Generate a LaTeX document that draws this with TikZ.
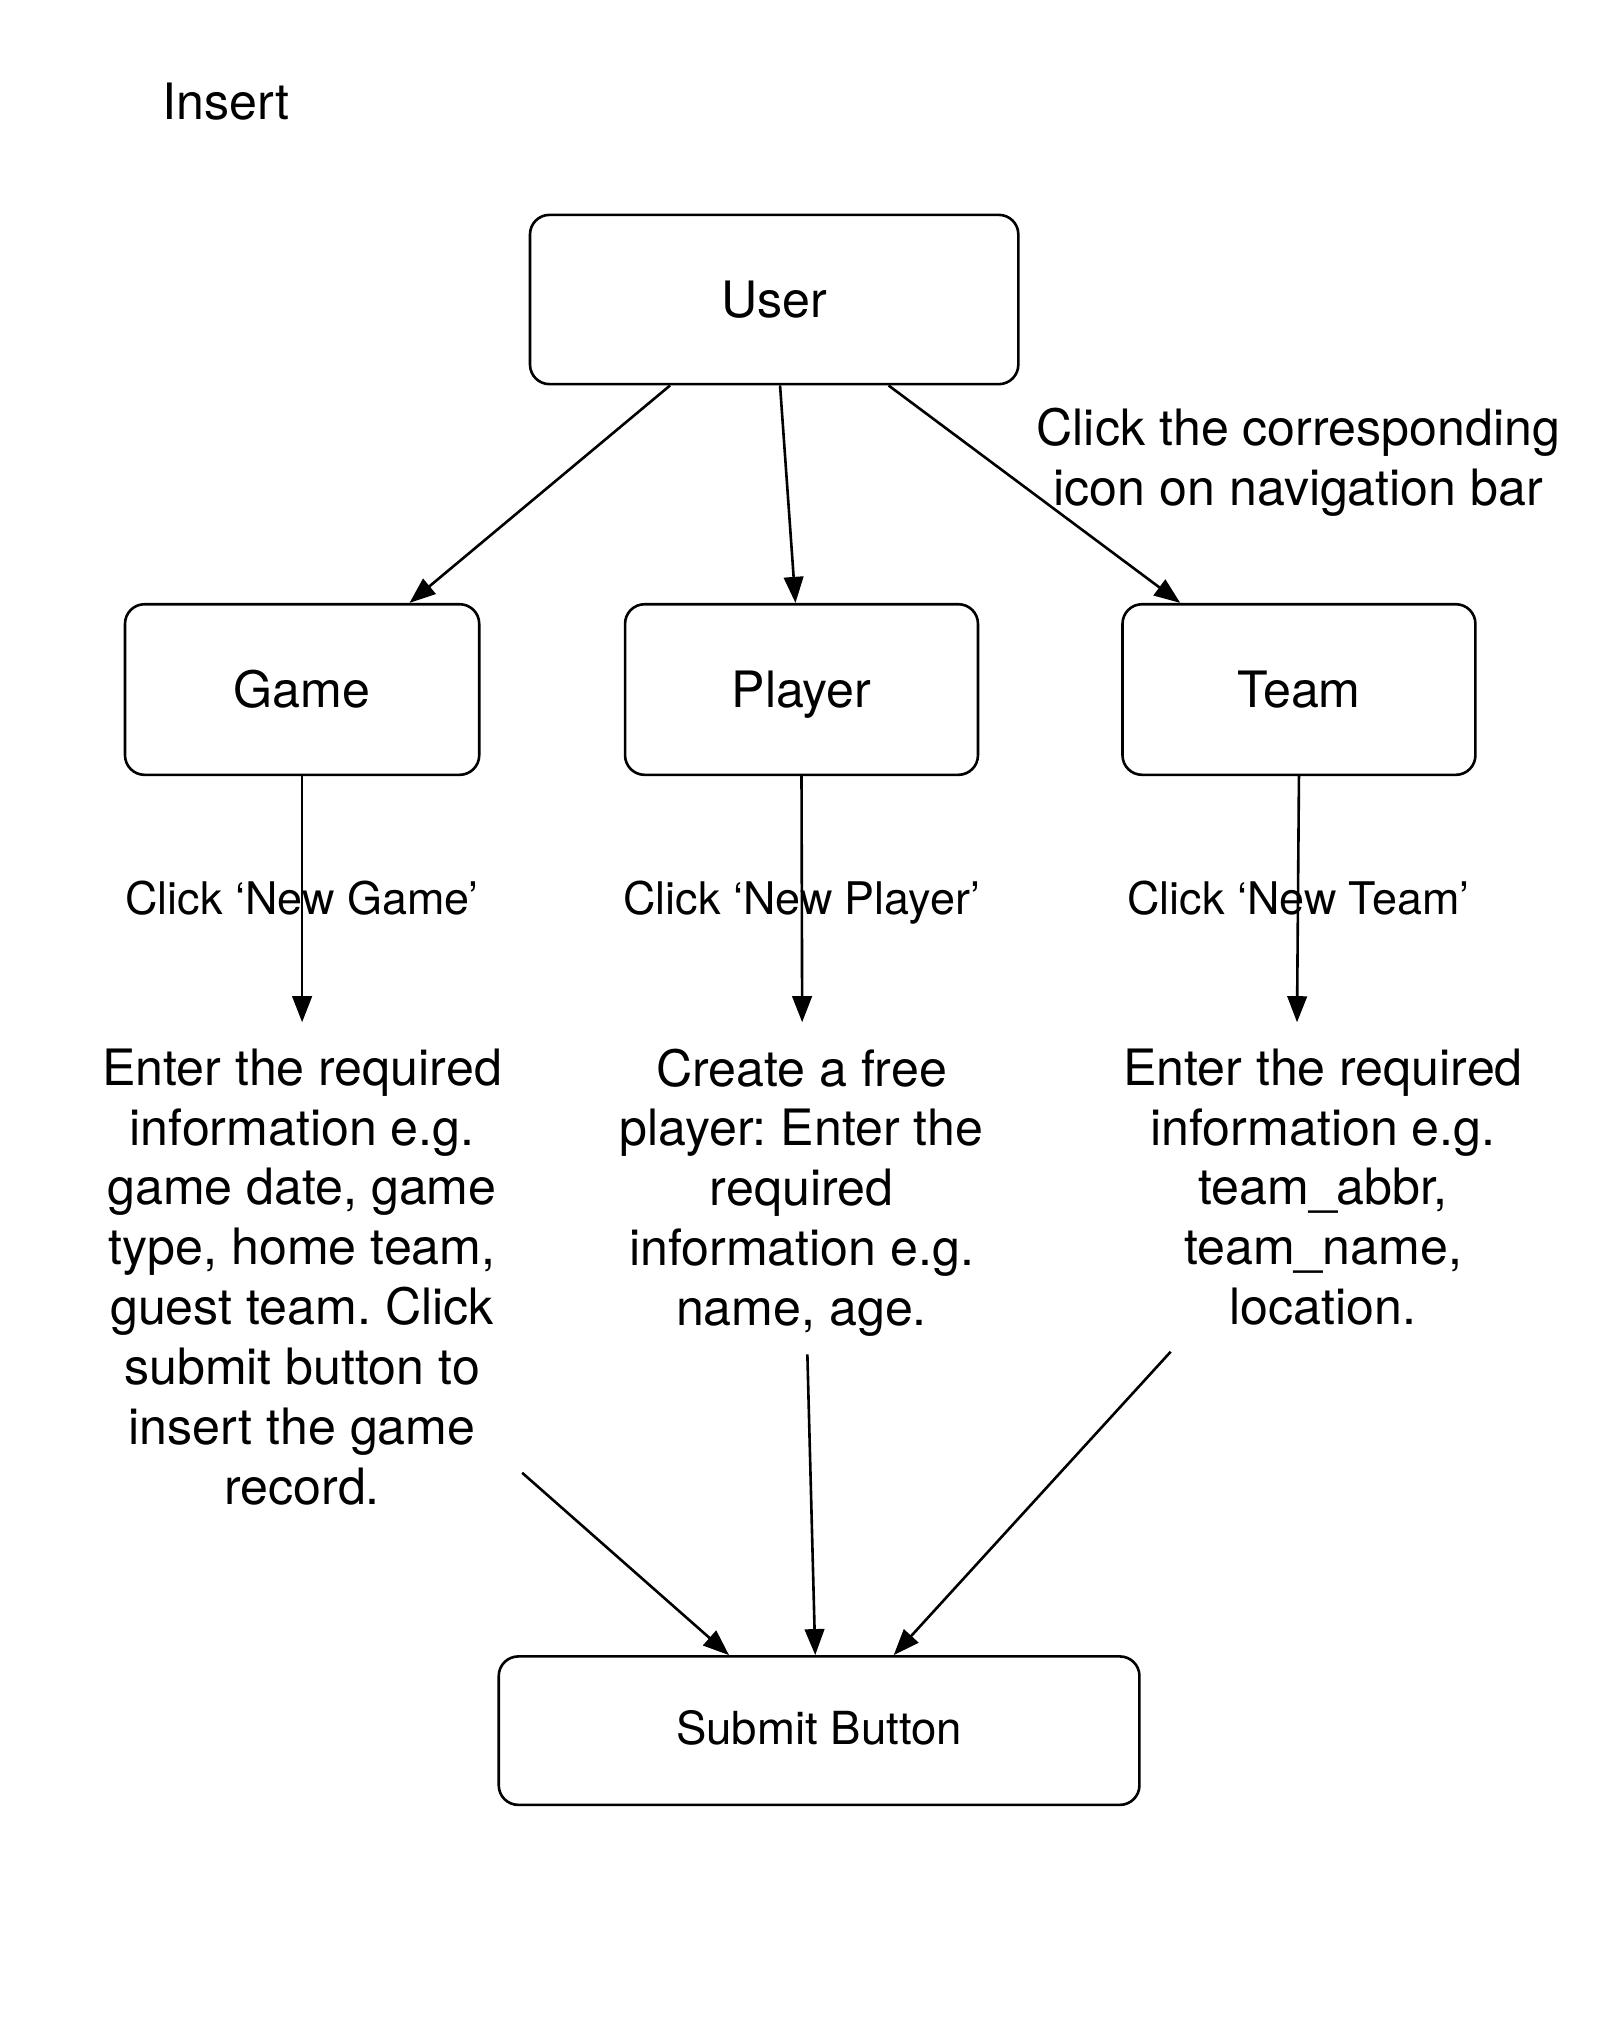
\documentclass[tikz,border=0pt]{standalone}
\usepackage{fontspec}
\setmainfont{TeX Gyre Heros}
\frenchspacing
\usetikzlibrary{arrows.meta,calc}
\begin{document}
\begin{tikzpicture}[x=1pt,y=-1pt,
  box/.style={draw, line width=2pt, rounded corners=15pt, inner sep=0pt, text height=28pt, text depth=0pt, font=\fontsize{38.5}{46}\selectfont},
  big/.style={font=\fontsize{38.5}{46}\selectfont, inner sep=0pt, align=center},
  small/.style={font=\fontsize{34.5}{41}\selectfont, inner sep=0pt},
  arr/.style={line width=2pt, -{Triangle[length=20pt,width=15pt]}}
]
\useasboundingbox (0,0) rectangle (1228,1563.5);

\node[big, anchor=base] (insert) at (173.5,92) {Insert};

\node[box, minimum width=375pt, minimum height=130pt] (user) at (594.5,230) {User};
\node[box, minimum width=272pt, minimum height=131pt] (game) at (232,529.5) {Game};
\node[box, minimum width=271pt, minimum height=131pt] (player) at (615.5,529.5) {Player};
\node[box, minimum width=271pt, minimum height=131pt] (team) at (997.5,529.5) {Team};
\node[box, minimum width=492pt, minimum height=114pt, text height=25pt, text depth=4pt, font=\fontsize{35}{42}\selectfont] (submit) at (629,1329) {Submit Button};

\node[big, anchor=north] (navlabel) at (997,313) {Click the corresponding\\icon on navigation bar};

\node[small, anchor=base] (lgame) at (232,702) {Click ‘New Game’};
\node[small, anchor=base] (lplayer) at (615.5,702) {Click ‘New Player’};
\node[small, anchor=base] (lteam) at (997,702) {Click ‘New Team’};

\node[big, anchor=north] (tgame) at (232,805) {Enter the required\\information e.g.\\game date, game\\type, home team,\\guest team. Click\\submit button to\\insert the game\\record.};
\node[big, anchor=north] (tplayer) at (615.5,805) {Create a free\\player: Enter the\\required\\information e.g.\\name, age.};
\node[big, anchor=north] (tteam) at (1016,805) {Enter the required\\information e.g.\\team\_abbr,\\team\_name,\\location.};

\coordinate (gend) at (232,785);
\coordinate (pend) at (616,785);
\coordinate (tend) at (996,785);
\coordinate (gstart) at (401,1131);
\coordinate (pstart) at (620,1040);
\coordinate (tstart) at (899,1038);

\draw[arr] ($(user.south west)!0.288!(user.south east)$) -- ($(game.north west)!0.801!(game.north east)$);
\draw[arr] ($(user.south west)!0.512!(user.south east)$) -- ($(player.north west)!0.483!(player.north east)$);
\draw[arr] ($(user.south west)!0.733!(user.south east)$) -- ($(team.north west)!0.166!(team.north east)$);

\draw[arr] (game.south) -- (gend);
\draw[arr] (player.south) -- (pend);
\draw[arr] (team.south) -- (tend);

\draw[arr] (gstart) -- ($(submit.north west)!0.36!(submit.north east)$);
\draw[arr] (pstart) -- ($(submit.north west)!0.494!(submit.north east)$);
\draw[arr] (tstart) -- ($(submit.north west)!0.616!(submit.north east)$);
\end{tikzpicture}
\end{document}
